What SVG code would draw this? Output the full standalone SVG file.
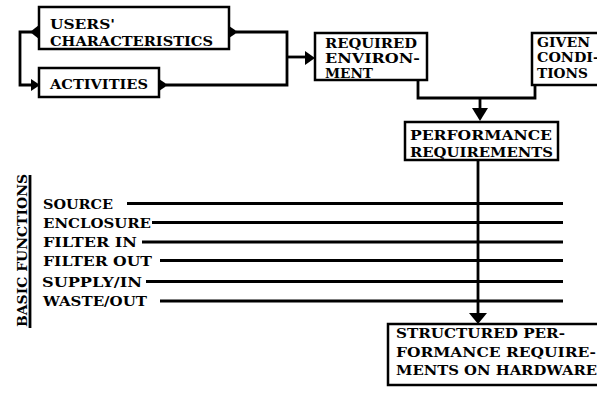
<svg xmlns="http://www.w3.org/2000/svg" width="597" height="396" viewBox="0 0 597 396">
<style>
text{font-family:"DejaVu Serif","Liberation Serif",serif;font-weight:bold;font-size:13px;fill:#000}
.box{fill:#fff;stroke:#000;stroke-width:2.5}
.ln{fill:none;stroke:#000;stroke-width:2.8}
.ah{fill:#000;stroke:none}
</style>
<rect width="597" height="396" fill="#fff"/>
<g id="connectors">
  <path class="ln" d="M32,32 H20 V85 H33"/>
  <path class="ln" d="M236,32 H287 V85 H166"/>
  <path class="ln" d="M287,57 H307"/>
  <path class="ln" d="M418,80 V98 H535 V85"/>
  <path class="ln" d="M480,98 V110"/>
  <path class="ln" d="M478,160 V315"/>
  <path class="ah" d="M39,25 L30,32 L39,39 Z"/>
  <path class="ah" d="M31,79 L40,85 L31,91 Z"/>
  <path class="ah" d="M229,26 L238,32 L229,38 Z"/>
  <path class="ah" d="M159,79 L168,85 L159,91 Z"/>
  <path class="ah" d="M305,51 L315,58 L305,65 Z"/>
  <path class="ah" d="M472,108 L488,108 L480,121 Z"/>
  <path class="ah" d="M469,313 L487,313 L478,324 Z"/>
  <path class="ln" d="M127,203.5 H563"/>
  <path class="ln" d="M152,222.5 H563"/>
  <path class="ln" d="M142,242 H563"/>
  <path class="ln" d="M160,260.5 H563"/>
  <path class="ln" d="M146,281.5 H563"/>
  <path class="ln" d="M160,301 H563"/>
  <path class="ln" d="M30,175 V328"/>
</g>
<g id="users">
  <rect class="box" x="39" y="7" width="190" height="42"/>
  <text x="50" y="29" textLength="65" lengthAdjust="spacingAndGlyphs">USERS'</text>
  <text x="50" y="46" textLength="163" lengthAdjust="spacingAndGlyphs">CHARACTERISTICS</text>
</g>
<g id="activities">
  <rect class="box" x="39" y="68" width="120" height="29"/>
  <text x="50" y="89" textLength="98" lengthAdjust="spacingAndGlyphs">ACTIVITIES</text>
</g>
<g id="required">
  <rect class="box" x="315" y="33" width="112" height="47"/>
  <text x="325" y="48" textLength="92" lengthAdjust="spacingAndGlyphs">REQUIRED</text>
  <text x="325" y="63" textLength="95" lengthAdjust="spacingAndGlyphs">ENVIRON-</text>
  <text x="325" y="78" textLength="48" lengthAdjust="spacingAndGlyphs">MENT</text>
</g>
<g id="given">
  <rect class="box" x="532" y="33" width="80" height="52"/>
  <text x="537" y="47" textLength="53" lengthAdjust="spacingAndGlyphs">GIVEN</text>
  <text x="537" y="62" textLength="62" lengthAdjust="spacingAndGlyphs">CONDI-</text>
  <text x="537" y="78" textLength="51" lengthAdjust="spacingAndGlyphs">TIONS</text>
</g>
<g id="performance">
  <rect class="box" x="405" y="122" width="153" height="38"/>
  <text x="410" y="140" textLength="142" lengthAdjust="spacingAndGlyphs">PERFORMANCE</text>
  <text x="410" y="157" textLength="143" lengthAdjust="spacingAndGlyphs">REQUIREMENTS</text>
</g>
<g id="functions">
  <text x="0" y="0" transform="translate(27,327) rotate(-90)" font-size="14" textLength="153" lengthAdjust="spacingAndGlyphs">BASIC FUNCTIONS</text>
  <text x="43" y="208.5" textLength="70" lengthAdjust="spacingAndGlyphs">SOURCE</text>
  <text x="43" y="227.5" textLength="108" lengthAdjust="spacingAndGlyphs">ENCLOSURE</text>
  <text x="43" y="247" textLength="94" lengthAdjust="spacingAndGlyphs">FILTER IN</text>
  <text x="43" y="265.5" textLength="109" lengthAdjust="spacingAndGlyphs">FILTER OUT</text>
  <text x="42" y="286.5" textLength="100" lengthAdjust="spacingAndGlyphs">SUPPLY/IN</text>
  <text x="43" y="306" textLength="104" lengthAdjust="spacingAndGlyphs">WASTE/OUT</text>
</g>
<g id="structured">
  <rect class="box" x="388" y="324" width="220" height="61"/>
  <text x="396" y="338" textLength="169" lengthAdjust="spacingAndGlyphs">STRUCTURED PER-</text>
  <text x="396" y="357" textLength="200" lengthAdjust="spacingAndGlyphs">FORMANCE REQUIRE-</text>
  <text x="396" y="375" textLength="201" lengthAdjust="spacingAndGlyphs">MENTS ON HARDWARE</text>
</g>
</svg>
